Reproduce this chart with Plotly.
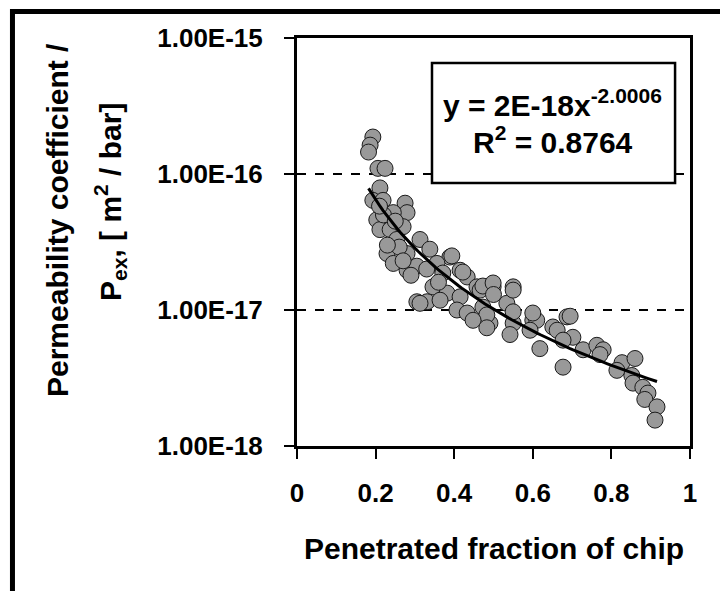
import numpy as np
import plotly.graph_objects as go

# ---- data ----
frac = [0.193, 0.186, 0.182, 0.206, 0.224, 0.211, 0.193, 0.219, 0.275, 0.280,
        0.203, 0.245, 0.211, 0.237, 0.270, 0.254, 0.313, 0.229, 0.280, 0.338,
        0.245, 0.280, 0.305, 0.389, 0.356, 0.371, 0.415, 0.433, 0.346, 0.382,
        0.305, 0.331, 0.364, 0.415, 0.458, 0.407, 0.433, 0.499, 0.550, 0.466,
        0.313, 0.473, 0.534, 0.600, 0.687, 0.491, 0.550, 0.651, 0.394, 0.422,
        0.473, 0.499, 0.550, 0.550, 0.483, 0.448, 0.483, 0.542, 0.610, 0.593,
        0.618, 0.695, 0.662, 0.702, 0.677, 0.728, 0.677, 0.763, 0.779, 0.771,
        0.827, 0.860, 0.814, 0.852, 0.855, 0.880, 0.893, 0.885, 0.916, 0.911,
        0.220, 0.260, 0.250, 0.290, 0.330, 0.360, 0.600, 0.500, 0.270, 0.210,
        0.230]
perm = [1.87e-16, 1.63e-16, 1.45e-16, 1.10e-16, 1.10e-16, 7.9e-17, 6.4e-17, 6.4e-17, 6.1e-17, 5.2e-17,
        4.6e-17, 5.2e-17, 3.9e-17, 3.9e-17, 4.1e-17, 3.3e-17, 3.3e-17, 2.6e-17, 2.6e-17, 2.8e-17,
        2.2e-17, 1.96e-17, 2.1e-17, 2.45e-17, 2.2e-17, 1.87e-17, 1.96e-17, 1.75e-17, 1.48e-17, 1.33e-17,
        1.15e-17, 1.15e-17, 1.18e-17, 1.25e-17, 1.48e-17, 1.0e-17, 9.5e-18, 1.48e-17, 1.48e-17, 1.4e-17,
        1.12e-17, 1.05e-17, 1.12e-17, 8.4e-18, 8.9e-18, 8.0e-18, 8.0e-18, 7.5e-18, 2.5e-17, 1.9e-17,
        1.5e-17, 1.58e-17, 1.4e-17, 9.7e-18, 9.2e-18, 8.4e-18, 7.4e-18, 6.6e-18, 8.4e-18, 7.1e-18,
        5.2e-18, 9.0e-18, 7.1e-18, 6.3e-18, 6.0e-18, 5.1e-18, 3.8e-18, 5.5e-18, 5.1e-18, 4.7e-18,
        4.1e-18, 4.4e-18, 3.6e-18, 3.3e-18, 2.9e-18, 2.7e-18, 2.45e-18, 2.2e-18, 1.94e-18, 1.55e-18,
        5.0e-17, 2.9e-17, 4.5e-17, 1.8e-17, 2.0e-17, 1.6e-17, 9.5e-18, 1.3e-17, 2.3e-17, 5.8e-17,
        3.0e-17]

x_ticks = [0, 0.2, 0.4, 0.6, 0.8, 1]
x_ticktext = ["0", "0.2", "0.4", "0.6", "0.8", "1"]
y_ticks = [1e-18, 1e-17, 1e-16, 1e-15]
y_ticktext = ["1.00E-18", "1.00E-17", "1.00E-16", "1.00E-15"]

eq_text = "y = 2E-18x<sup>-2.0006</sup>"
r2_text = "R<sup>2</sup> = 0.8764"

# power-law trendline (least squares in log-log space, as Excel does)
fx = np.array(frac)
fy = np.array(perm)
b, log_a = np.polyfit(np.log(fx), np.log(fy), 1)
tx = np.linspace(fx.min(), fx.max(), 100)
ty = np.exp(log_a) * tx ** b

FONT = "Arial, Liberation Sans, sans-serif"

fig = go.Figure()
fig.add_trace(go.Scatter(
    x=frac, y=perm, mode="markers",
    marker=dict(size=16, color="#999999", line=dict(color="#1a1a1a", width=1)),
    showlegend=False))
fig.add_trace(go.Scatter(
    x=tx, y=ty, mode="lines",
    line=dict(color="black", width=3), showlegend=False))

fig.update_layout(
    width=720, height=591,
    margin=dict(l=297, r=30, t=38, b=145),
    paper_bgcolor="white", plot_bgcolor="white",
    font=dict(family=FONT, color="black"),
    xaxis=dict(range=[0, 1], tickvals=x_ticks, ticktext=x_ticktext,
               ticks="outside", ticklen=10, tickwidth=2, tickcolor="black",
               showline=True, linecolor="black", linewidth=3, mirror=True,
               showgrid=False, zeroline=False,
               tickfont=dict(family=FONT, size=26, color="black", weight="bold"),
               ticklabelstandoff=12),
    yaxis=dict(type="log", range=[-18, -15], tickvals=y_ticks, ticktext=y_ticktext,
               ticks="outside", ticklen=10, tickwidth=2, tickcolor="black",
               showline=True, linecolor="black", linewidth=3, mirror=True,
               showgrid=True, gridcolor="black", gridwidth=1.5, griddash="dash",
               zeroline=False,
               tickfont=dict(family=FONT, size=26, color="black", weight="bold"),
               ticklabelstandoff=16),
)

# outer frame (only top & left edges visible)
fig.add_shape(type="rect", xref="paper", yref="paper",
              x0=-0.724, x1=1.12, y0=-0.40, y1=1.065,
              line=dict(color="black", width=5), fillcolor="rgba(0,0,0,0)", layer="above")

# equation box
fig.add_shape(type="rect", xref="paper", yref="paper",
              x0=0.3435, x1=0.962, y0=0.6446, y1=0.9387,
              line=dict(color="black", width=2.5), fillcolor="white", layer="above")

fig.add_annotation(xref="paper", yref="paper", x=0.651, y=0.84, text=eq_text,
                   showarrow=False, xanchor="center", yanchor="middle",
                   font=dict(family=FONT, size=30, color="black", weight="bold"))
fig.add_annotation(xref="paper", yref="paper", x=0.651, y=0.75, text=r2_text,
                   showarrow=False, xanchor="center", yanchor="middle",
                   font=dict(family=FONT, size=30, color="black", weight="bold"))

# axis titles
fig.add_annotation(xref="paper", yref="paper", x=0.501, y=-0.25,
                   text="Penetrated fraction of chip", showarrow=False,
                   xanchor="center", yanchor="middle",
                   font=dict(family=FONT, size=30, color="black", weight="bold"))
fig.add_annotation(xref="paper", yref="paper", x=-0.608, y=0.554,
                   text="Permeability coefficient /", showarrow=False, textangle=-90,
                   xanchor="center", yanchor="middle",
                   font=dict(family=FONT, size=30, color="black", weight="bold"))
fig.add_annotation(xref="paper", yref="paper", x=-0.476, y=0.598,
                   text="P<sub>ex</sub>, [ m<sup>2</sup> / bar]", showarrow=False, textangle=-90,
                   xanchor="center", yanchor="middle",
                   font=dict(family=FONT, size=30, color="black", weight="bold"))

fig.write_html("out.html")
